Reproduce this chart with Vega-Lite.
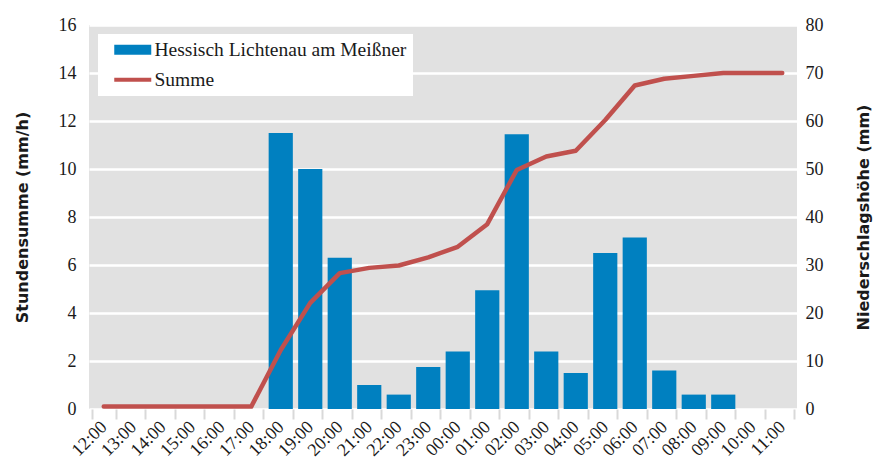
{
  "$schema": "https://vega.github.io/schema/vega-lite/v6.json",
  "autosize": {"type": "none"},
  "padding": {"left": 89, "top": 25, "right": 76, "bottom": 55},
  "width": 708,
  "height": 384,
  "background": "white",
  "view": {"fill": "#e1e1e1", "stroke": null},
  "config": {
    "font": "Liberation Serif",
    "axis": {"labelFont": "Liberation Serif", "labelFontSize": 17, "labelColor": "#1a1a1a", "titleFont": "DejaVu Sans", "titleFontWeight": "bold", "titleFontSize": 16, "titleColor": "#1a1a1a"}
  },
  "data": {
    "values": [
      {"hour": "12:00", "rate": 0, "sum": 0.5},
      {"hour": "13:00", "rate": 0, "sum": 0.5},
      {"hour": "14:00", "rate": 0, "sum": 0.5},
      {"hour": "15:00", "rate": 0, "sum": 0.5},
      {"hour": "16:00", "rate": 0, "sum": 0.5},
      {"hour": "17:00", "rate": 0, "sum": 0.5},
      {"hour": "18:00", "rate": 11.5, "sum": 12.3},
      {"hour": "19:00", "rate": 10.0, "sum": 22.1},
      {"hour": "20:00", "rate": 6.3, "sum": 28.3},
      {"hour": "21:00", "rate": 1.0, "sum": 29.4},
      {"hour": "22:00", "rate": 0.6, "sum": 29.9},
      {"hour": "23:00", "rate": 1.75, "sum": 31.6},
      {"hour": "00:00", "rate": 2.4, "sum": 33.8},
      {"hour": "01:00", "rate": 4.95, "sum": 38.5},
      {"hour": "02:00", "rate": 11.45, "sum": 49.8},
      {"hour": "03:00", "rate": 2.4, "sum": 52.6},
      {"hour": "04:00", "rate": 1.5, "sum": 53.8},
      {"hour": "05:00", "rate": 6.5, "sum": 60.2},
      {"hour": "06:00", "rate": 7.15, "sum": 67.4},
      {"hour": "07:00", "rate": 1.6, "sum": 68.8},
      {"hour": "08:00", "rate": 0.6, "sum": 69.4},
      {"hour": "09:00", "rate": 0.6, "sum": 70.0},
      {"hour": "10:00", "rate": 0, "sum": 70.0},
      {"hour": "11:00", "rate": 0, "sum": 70.0}
    ]
  },
  "encoding": {
    "x": {
      "field": "hour", "type": "nominal", "sort": null,
      "scale": {"paddingInner": 0.18, "paddingOuter": 0.09},
      "axis": {
        "title": null, "domain": false, "grid": false,
        "tickBand": "extent", "tickSize": 10, "tickWidth": 2, "tickColor": "#d9d9d9",
        "labelAngle": -45, "labelAlign": "right", "labelBaseline": "middle", "labelPadding": 5,
        "labelFont": "Liberation Serif", "labelFontSize": 18, "labelColor": "#1a1a1a"
      }
    }
  },
  "layer": [
    {
      "mark": {"type": "bar"},
      "encoding": {
        "y": {
          "field": "rate", "type": "quantitative",
          "scale": {"domain": [0, 16], "nice": false},
          "axis": {
            "title": "Stundensumme (mm/h)", "values": [0, 2, 4, 6, 8, 10, 12, 14, 16],
            "domain": false, "ticks": false, "grid": true, "gridColor": "white", "gridWidth": 2.5, "gridOpacity": 1,
            "labelFont": "Liberation Serif", "labelFontSize": 18, "labelColor": "#1a1a1a",
            "titleFont": "DejaVu Sans", "titleFontWeight": "bold", "titleFontSize": 16, "titleColor": "#1a1a1a",
            "labelPadding": 13, "titleX": -62, "titleY": 192, "titleBaseline": "alphabetic", "titleAngle": -90
          }
        },
        "color": {
          "datum": "Hessisch Lichtenau am Meißner", "type": "nominal",
          "scale": {"domain": ["Hessisch Lichtenau am Meißner", "Summe"], "range": ["#0080c0", "#c0504d"]},
          "legend": {
            "title": null, "orient": "none", "legendX": 9, "legendY": 9,
            "fillColor": "white", "padding": 6, "rowPadding": 9,
            "symbolSize": 100, "symbolOffset": 19, "labelOffset": 12,
            "labelFont": "Liberation Serif", "labelFontSize": 19.5, "labelColor": "#1a1a1a", "labelLimit": 400,
            "encode": {
              "symbols": {
                "update": {
                  "shape": {"signal": "datum.value === 'Summe' ? 'M-3.7,-0.4H3.7V0.4H-3.7Z' : 'M-3.7,-1H3.7V1H-3.7Z'"},
                  "fill": {"signal": "datum.value === 'Summe' ? '#c0504d' : '#0080c0'"},
                  "stroke": {"value": "transparent"},
                  "strokeWidth": {"value": 0},
                  "opacity": {"value": 1},
                  "fillOpacity": {"value": 1}
                }
              }
            }
          }
        }
      }
    },
    {
      "mark": {"type": "line", "strokeWidth": 4.5, "strokeCap": "round", "strokeJoin": "round"},
      "encoding": {
        "y": {
          "field": "sum", "type": "quantitative",
          "scale": {"domain": [0, 80], "nice": false},
          "axis": {
            "orient": "right", "title": "Niederschlagshöhe (mm)", "values": [0, 10, 20, 30, 40, 50, 60, 70, 80],
            "domain": false, "ticks": false, "grid": false,
            "labelFont": "Liberation Serif", "labelFontSize": 18, "labelColor": "#1a1a1a",
            "titleFont": "DejaVu Sans", "titleFontWeight": "bold", "titleFontSize": 16, "titleColor": "#1a1a1a",
            "labelPadding": 8, "titleX": 71, "titleY": 192, "titleBaseline": "alphabetic", "titleAngle": -90
          }
        },
        "color": {"datum": "Summe", "type": "nominal"}
      }
    }
  ],
  "resolve": {"scale": {"y": "independent"}}
}
